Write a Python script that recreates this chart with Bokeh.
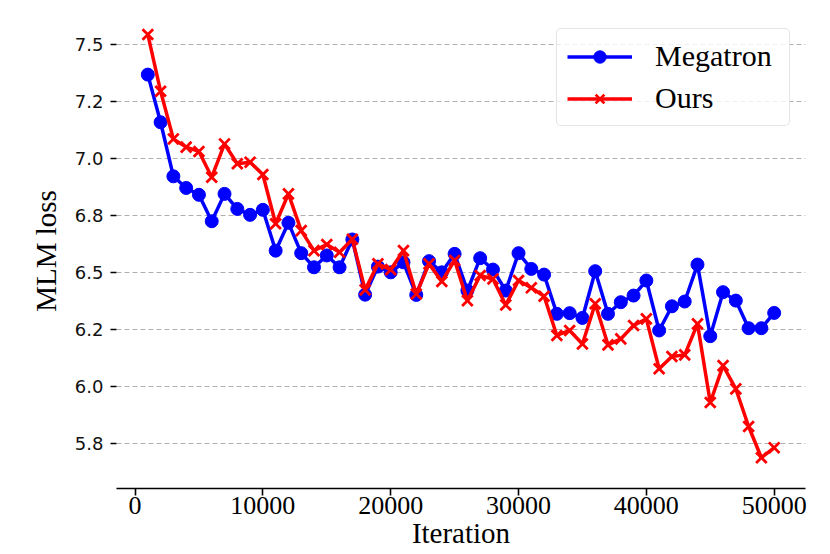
from bokeh.plotting import figure
from bokeh.models import FixedTicker, Legend, LegendItem, Range1d
from bokeh.embed import file_html
from bokeh.resources import INLINE

iterations = [1000 * k for k in range(1, 51)]
megatron = [7.368, 7.159, 6.922, 6.871, 6.841, 6.725, 6.845, 6.779, 6.753, 6.775,
            6.596, 6.718, 6.585, 6.523, 6.575, 6.523, 6.645, 6.403, 6.526, 6.501,
            6.545, 6.402, 6.550, 6.501, 6.582, 6.421, 6.563, 6.513, 6.421, 6.585,
            6.516, 6.491, 6.319, 6.322, 6.301, 6.506, 6.319, 6.370, 6.399, 6.465,
            6.246, 6.352, 6.373, 6.535, 6.221, 6.414, 6.377, 6.256, 6.256, 6.323]
ours = [7.544, 7.295, 7.086, 7.050, 7.031, 6.918, 7.064, 6.977, 6.984, 6.930,
        6.714, 6.845, 6.684, 6.596, 6.623, 6.589, 6.646, 6.424, 6.538, 6.513,
        6.596, 6.406, 6.538, 6.461, 6.553, 6.377, 6.487, 6.472, 6.358, 6.465,
        6.433, 6.396, 6.224, 6.246, 6.187, 6.363, 6.183, 6.209, 6.268, 6.297,
        6.078, 6.132, 6.139, 6.275, 5.930, 6.092, 5.990, 5.825, 5.688, 5.732]

y_ticks = [5.75, 6.0, 6.25, 6.5, 6.75, 7.0, 7.25, 7.5]
y_tick_labels = ["5.8", "6.0", "6.2", "6.5", "6.8", "7.0", "7.2", "7.5"]
x_ticks = [0, 10000, 20000, 30000, 40000, 50000]

p = figure(width=830, height=554, output_backend="svg", toolbar_location=None,
           x_range=Range1d(-1450, 52450), y_range=Range1d(5.553, 7.636),
           min_border_left=116, min_border_right=25, min_border_top=13,
           min_border_bottom=66)
p.outline_line_color = None
p.background_fill_color = "white"
p.border_fill_color = "white"

# grid
p.xgrid.grid_line_color = None
p.ygrid.grid_line_color = "#b0b0b0"
p.ygrid.grid_line_dash = "5 3"
p.ygrid.grid_line_width = 1.2
p.ygrid.ticker = FixedTicker(ticks=y_ticks)

# y axis
p.yaxis.ticker = FixedTicker(ticks=y_ticks)
p.yaxis.major_label_overrides = {t: l for t, l in zip(y_ticks, y_tick_labels)}
p.yaxis.axis_line_color = None
p.yaxis.major_tick_line_width = 1.6
p.yaxis.major_tick_out = 6
p.yaxis.major_tick_in = 0
p.yaxis.minor_tick_line_color = None
p.yaxis.major_label_text_font = "DejaVu Sans"
p.yaxis.major_label_text_font_size = "18px"
p.yaxis.major_label_text_color = "#111111"
p.yaxis.major_label_standoff = 7
p.yaxis.axis_label = "MLM loss"
p.yaxis.axis_label_text_font = "Liberation Serif"
p.yaxis.axis_label_text_font_size = "29px"
p.yaxis.axis_label_text_font_style = "normal"
p.yaxis.axis_label_text_color = "black"
p.yaxis.axis_label_standoff = 10

# x axis
p.xaxis.ticker = FixedTicker(ticks=x_ticks)
p.xaxis.axis_line_width = 1.6
p.xaxis.axis_line_color = "black"
p.xaxis.major_tick_line_width = 1.6
p.xaxis.major_tick_out = 7
p.xaxis.major_tick_in = 0
p.xaxis.minor_tick_line_color = None
p.xaxis.major_label_text_font = "Liberation Serif"
p.xaxis.major_label_text_font_size = "26px"
p.xaxis.major_label_text_color = "black"
p.xaxis.major_label_standoff = 1
p.xaxis.axis_label = "Iteration"
p.xaxis.axis_label_text_font = "Liberation Serif"
p.xaxis.axis_label_text_font_size = "29px"
p.xaxis.axis_label_text_font_style = "normal"
p.xaxis.axis_label_text_color = "black"
p.xaxis.axis_label_standoff = 0

l1 = p.line(iterations, megatron, line_color="blue", line_width=3.5)
s1 = p.scatter(iterations, megatron, marker="circle", size=13,
               fill_color="blue", line_color="blue")
l2 = p.line(iterations, ours, line_color="red", line_width=3.5)
s2 = p.scatter(iterations, ours, marker="x", size=15, line_color="red",
               line_width=2.8)

legend = Legend(items=[LegendItem(label="Megatron", renderers=[l1, s1]),
                       LegendItem(label="Ours", renderers=[l2, s2])],
                location="top_right")
legend.margin = 15
legend.padding = 10
legend.spacing = 8
legend.glyph_width = 65
legend.glyph_height = 31
legend.label_height = 31
legend.label_width = 124
legend.label_standoff = 23
legend.label_text_font = "Liberation Serif"
legend.label_text_font_size = "30px"
legend.label_text_color = "black"
legend.border_line_color = "#cccccc"
legend.border_line_width = 1.5
legend.background_fill_color = "white"
legend.background_fill_alpha = 0.8
if "border_radius" in Legend.properties():
    legend.border_radius = 5
p.add_layout(legend, "center")

open("out.html", "w").write(file_html(p, INLINE))
